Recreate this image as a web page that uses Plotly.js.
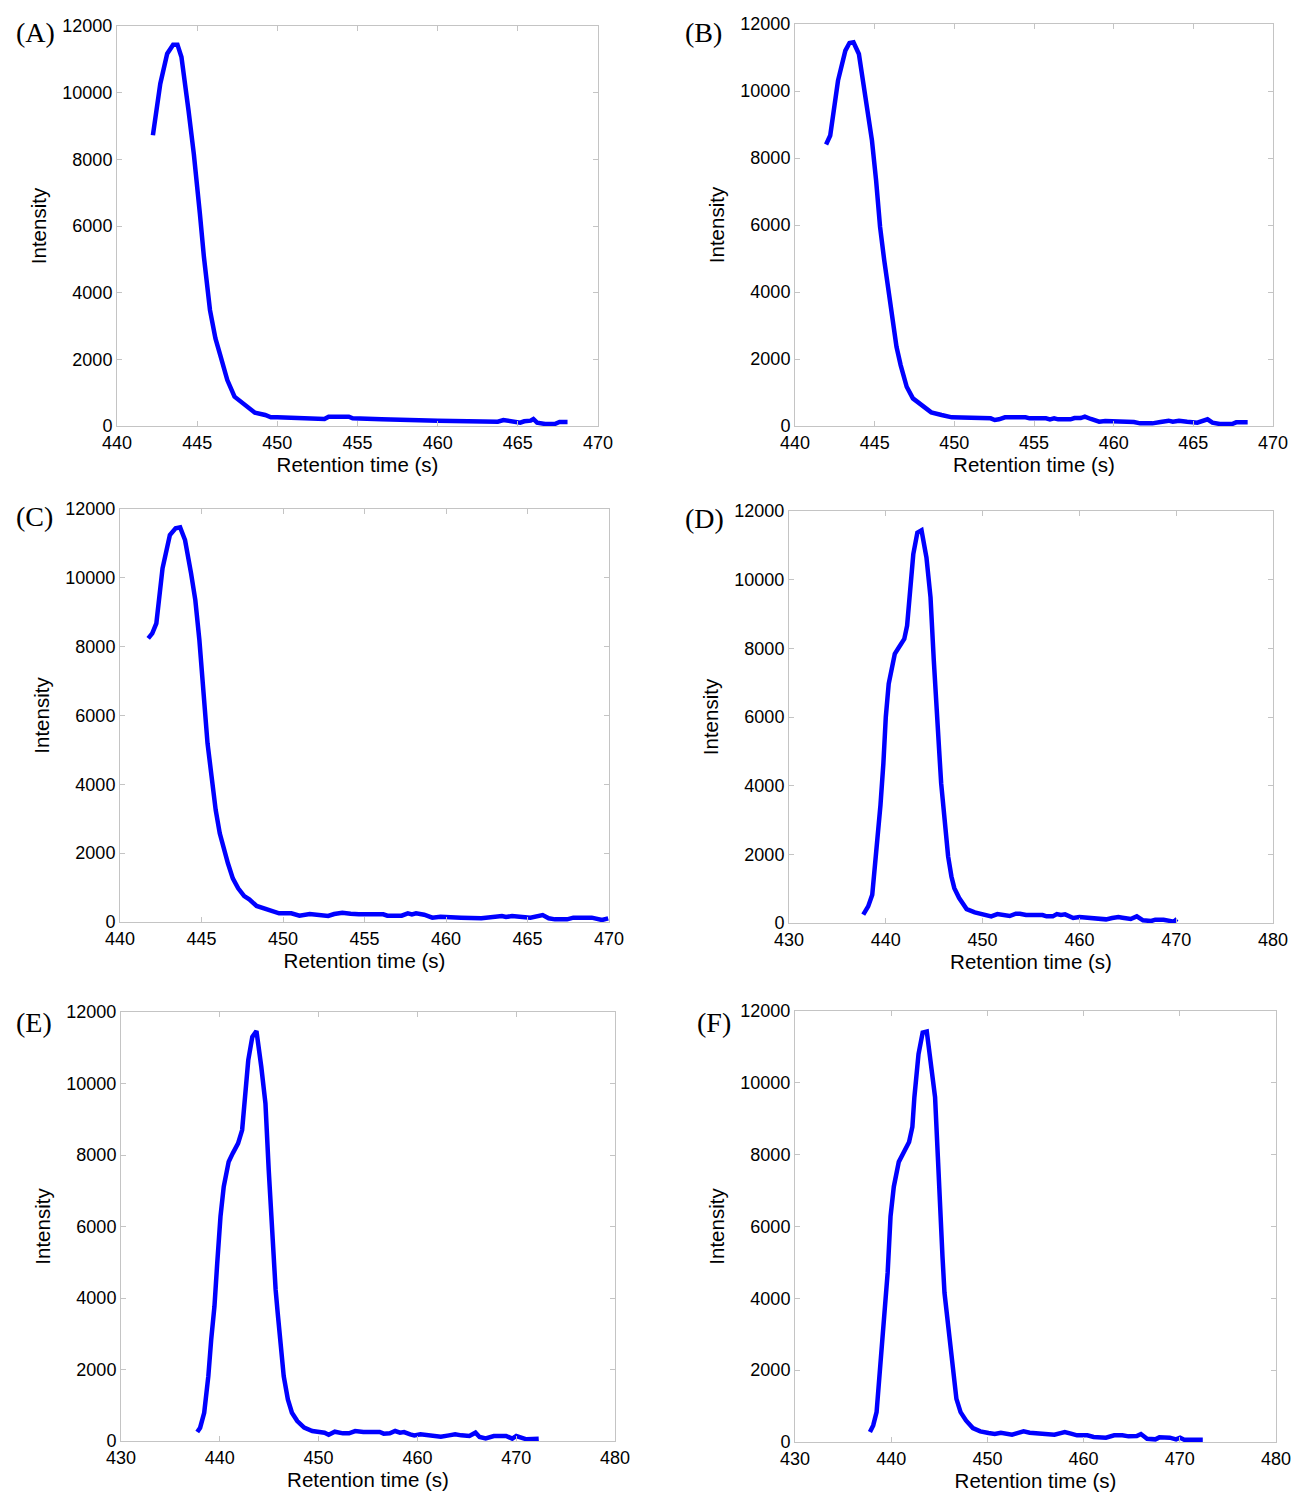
<!DOCTYPE html>
<html>
<head>
<meta charset="utf-8">
<script src="https://cdn.plot.ly/plotly-3.0.1.min.js"></script>
<style>html,body{margin:0;padding:0;background:#fff;}#chart{width:1294px;height:1492px;}</style>
</head>
<body>
<div id="chart"></div>
<script>
// Panel labels
const panelLabels = ["(A)", "(B)", "(C)", "(D)", "(E)", "(F)"];
const xTitle = "Retention time (s)";
const yTitle = "Intensity";

// Panel A
const timeA = [442.24,442.7,443.13,443.5,443.77,444.02,444.46,444.79,445.17,445.42,445.8,446.14,446.44,446.88,447.33,447.84,448.6,449.24,449.6,450.0,452.94,453.2,454.46,454.7,455.9,456.0,456.3,456.5,460.0,463.75,464.1,464.4,464.9,465.15,465.4,465.8,465.97,466.2,466.7,467.3,467.6,468.1];
const intensityA = [8721,10270,11170,11440,11440,11070,9470,8170,6370,5075,3476,2627,2128,1379,879,680,400,330,260,260,210,280,280,230,230,200,230,200,160,130,180,160,120,100,140,160,210,100,60,60,120,120];

// Panel B
const timeB = [441.95,442.21,442.7,443.16,443.42,443.67,444.01,444.32,444.57,444.83,445.09,445.34,445.6,445.86,446.11,446.37,446.63,447.01,447.4,447.91,448.55,449.2,449.58,449.84,452.28,452.54,452.8,453.18,454.47,454.72,455.75,456.0,456.26,456.52,457.29,457.54,457.93,458.19,458.57,459.09,459.47,460.24,460.5,461.27,461.66,462.43,462.94,463.45,463.71,464.1,464.61,465.0,465.25,465.89,466.2,466.66,467.43,467.69,468.41];
const intensityB = [8404,8672,10311,11205,11433,11453,11106,10112,9516,8523,7331,5940,4947,4053,3159,2364,1818,1172,824,626,407,328,278,258,228,179,199,258,258,228,228,199,228,199,199,238,238,278,209,129,149,149,119,119,79,79,119,159,129,159,129,129,99,199,99,60,60,109,109];

// Panel C
const timeC = [441.73,441.98,442.23,442.61,443.06,443.41,443.69,443.99,444.36,444.62,444.87,445.12,445.37,445.62,445.87,446.12,446.37,446.62,446.92,447.25,447.62,447.93,448.38,448.88,449.38,449.76,450.51,451.01,451.64,452.14,452.64,452.77,453.14,453.64,454.15,454.65,456.15,456.4,457.28,457.66,457.91,458.16,458.66,459.16,459.66,460.42,460.92,462.17,462.93,463.43,463.68,464.05,464.68,465.18,465.93,466.3,466.68,467.43,467.81,468.94,469.57,469.95];
const intensityC = [8242,8387,8678,10276,11245,11438,11467,11099,10131,9356,8194,6741,5191,4223,3254,2576,2092,1705,1269,978,755,659,465,387,329,252,252,184,232,203,203,174,232,271,242,223,223,184,184,252,223,252,213,126,155,155,126,107,136,174,145,174,145,126,203,107,77,77,126,126,58,107];

// Panel D
const timeD = [437.67,438.18,438.6,438.94,439.24,439.45,439.75,440.0,440.3,440.51,440.93,441.36,441.91,442.2,442.42,442.84,443.26,443.69,444.2,444.62,444.96,445.25,445.51,445.72,445.97,446.14,446.44,446.78,447.08,447.58,448.35,449.19,450.04,450.89,451.53,452.16,452.8,453.43,453.86,454.49,456.19,456.61,457.25,457.67,458.09,458.52,458.94,459.36,460.0,460.64,461.48,462.75,463.39,464.03,464.45,465.3,465.93,466.57,467.42,467.84,468.69,469.32,469.75,470.08];
const intensityD = [242,484,823,1742,2710,3436,4645,6000,6968,7258,7839,8032,8274,8661,9484,10742,11371,11439,10645,9484,7645,6000,5032,4065,3290,2613,1935,1355,1016,726,406,310,242,194,261,223,203,271,271,232,232,194,194,261,232,252,213,145,174,155,126,106,145,174,155,116,194,77,58,97,97,58,39,116];

// Panel E
const timeE = [437.72,438.01,438.42,438.84,439.13,439.46,439.74,440.07,440.4,440.9,441.31,441.85,442.26,442.55,442.88,443.29,443.71,444.2,444.62,444.95,445.24,445.44,445.65,445.86,446.14,446.47,446.89,447.3,447.84,448.54,449.36,449.98,450.6,451.02,451.64,452.46,453.08,453.7,454.53,456.18,456.59,457.21,457.75,458.24,458.65,459.27,459.69,460.31,461.34,462.37,463.2,463.82,464.44,465.26,465.88,466.29,466.91,467.74,468.98,469.6,470.01,470.63,471.04,472.28];
const intensityE = [251,372,791,1814,2837,3767,4977,6279,7116,7814,8047,8326,8698,9535,10651,11302,11470,10465,9442,7581,6093,5163,4233,3581,2651,1814,1163,791,558,372,279,251,233,177,260,214,214,279,251,251,205,214,279,233,251,186,158,186,140,121,158,186,158,140,233,112,74,140,140,65,140,93,47,65];

// Panel F
const timeF = [437.79,438.13,438.48,438.78,439.08,439.33,439.63,439.93,440.27,440.79,441.34,441.86,442.2,442.41,442.84,443.27,443.7,444.13,444.56,444.85,445.11,445.33,445.54,445.84,446.1,446.4,446.78,447.21,447.77,448.49,449.26,450.12,450.76,451.4,452.05,452.56,453.12,453.76,454.4,456.33,456.97,457.61,458.04,458.68,459.32,460.39,461.04,462.32,463.18,464.03,464.67,465.53,465.96,466.6,467.46,467.88,468.96,469.61,470.03,470.46,471.32,472.39];
const intensityF = [277,462,831,1846,2862,3415,4708,6277,7108,7800,8123,8354,8769,9600,10800,11400,11428,10615,9600,7938,6185,5169,4154,3415,2631,1846,1200,831,600,388,295,249,222,258,240,203,249,295,258,240,203,249,277,231,185,185,138,120,185,185,157,166,222,92,74,129,120,74,120,65,65,65];

// X axis ranges and tick steps per panel
const xRanges = [[440,470],[440,470],[440,470],[430,480],[430,480],[430,480]];
const xSteps = [5,5,5,10,10,10];
const yRange = [0,12000];
const yStep = 2000;

const seriesX = [timeA,timeB,timeC,timeD,timeE,timeF];
const seriesY = [intensityA,intensityB,intensityC,intensityD,intensityE,intensityF];

// Layout geometry (pixel boxes of plot areas)
const W = 1294, H = 1492;
const boxes = [
  {l:117,r:598,t:26,b:426},
  {l:795,r:1273,t:24,b:426},
  {l:120,r:609,t:509,b:922},
  {l:789,r:1273,t:511,b:923},
  {l:121,r:615,t:1012,b:1441},
  {l:795,r:1276,t:1011,b:1442}
];
const labelPos = [
  {x:35,y:32},{x:703,y:32},{x:34,y:517},{x:704,y:518},{x:34,y:1022},{x:714,y:1022}
];

const tickFont = {family:"Liberation Sans, Arial, sans-serif", size:18, color:"#000"};
const titleFont = {family:"Liberation Sans, Arial, sans-serif", size:20.5, color:"#000"};

const traces = [];
const layout = {
  width:W, height:H,
  margin:{l:0,r:0,t:0,b:0},
  paper_bgcolor:"#fff", plot_bgcolor:"#fff",
  showlegend:false,
  annotations:[]
};

for (let i=0;i<6;i++){
  const sfx = i===0 ? "" : String(i+1);
  traces.push({
    x:seriesX[i], y:seriesY[i], type:"scatter", mode:"lines",
    line:{color:"#0000ff", width:4.5},
    xaxis:"x"+sfx, yaxis:"y"+sfx, hoverinfo:"skip"
  });
  const b = boxes[i];
  const axCommon = {
    showgrid:false, zeroline:false, showline:true, mirror:"ticks",
    linecolor:"#c4c4c4", linewidth:1, ticks:"inside", ticklen:5,
    tickcolor:"#c4c4c4", tickfont:tickFont, automargin:false, tickformat:"d"
  };
  layout["xaxis"+sfx] = Object.assign({}, axCommon, {
    domain:[b.l/W, b.r/W], range:xRanges[i], dtick:xSteps[i], tick0:0,
    anchor:"y"+sfx, title:{text:xTitle, font:titleFont, standoff:2}
  });
  layout["yaxis"+sfx] = Object.assign({}, axCommon, {
    domain:[(H-b.b)/H, (H-b.t)/H], range:yRange, dtick:yStep, tick0:0,
    anchor:"x"+sfx, title:{text:yTitle, font:titleFont, standoff:10}
  });
  layout.annotations.push({
    text:panelLabels[i], xref:"paper", yref:"paper",
    x:labelPos[i].x/W, y:(H-labelPos[i].y)/H, xanchor:"center", yanchor:"middle",
    showarrow:false, font:{family:"Liberation Serif, Times New Roman, serif", size:28, color:"#000"}
  });
}

Plotly.newPlot("chart", traces, layout, {staticPlot:true, displayModeBar:false});
</script>
</body>
</html>
